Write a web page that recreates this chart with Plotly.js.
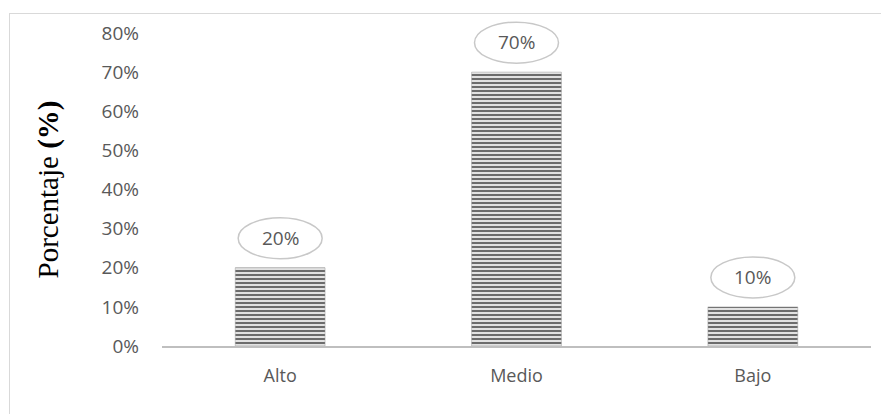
<!DOCTYPE html>
<html>
<head>
<meta charset="utf-8">
<script src="https://cdn.plot.ly/plotly-3.0.1.min.js"></script>
<style>
  html, body { margin: 0; padding: 0; overflow: hidden; background: #fff; }
  #frame { position: absolute; left: 9px; top: 13px; width: 900px; height: 450px; border: 1px solid #d9d9d9; }
  #chart { position: absolute; left: 0; top: 0; width: 881px; height: 414px; }
</style>
</head>
<body>
<div id="frame"></div>
<div id="chart"></div>
<script>
const categories = ["Alto", "Medio", "Bajo"];
const values = [20, 70, 10];
const labels = ["20%", "70%", "10%"];
const yTicks = [0, 10, 20, 30, 40, 50, 60, 70, 80];
const yMax = 80;

const FONT = "'Open Sans', Lato, sans-serif";

const trace = {
  type: "bar",
  x: categories,
  y: values,
  width: 0.38,
  marker: {
    color: "#dcdcdc",
    pattern: { shape: "-", fgcolor: "#5e5e5e", bgcolor: "#e2e2e2", size: 4, solidity: 0.45 },
    line: { color: "#9a9a9a", width: 0.5 }
  },
  hoverinfo: "none"
};

const shapes = values.map((v, i) => ({
  type: "circle",
  xref: "x", yref: "paper",
  xsizemode: "pixel", ysizemode: "pixel",
  xanchor: i, yanchor: v / yMax,
  x0: -42, x1: 42, y0: 9, y1: 50,
  line: { color: "#c8c8c8", width: 1.5 },
  fillcolor: "rgba(255,255,255,0)"
}));

const annotations = values.map((v, i) => ({
  x: i, y: v / yMax, xref: "x", yref: "paper",
  xanchor: "center", yanchor: "middle",
  text: labels[i], showarrow: false,
  yshift: 30,
  font: { family: FONT, size: 19, color: "#595959" }
}));

const layout = {
  width: 881, height: 414,
  margin: { l: 162, r: 10, t: 33, b: 68 },
  paper_bgcolor: "rgba(0,0,0,0)",
  plot_bgcolor: "rgba(0,0,0,0)",
  showlegend: false,
  xaxis: {
    type: "category",
    showline: true, linecolor: "#bfbfbf", linewidth: 2,
    showgrid: false, zeroline: false, ticks: "",
    ticklabelstandoff: 12,
    tickfont: { family: FONT, size: 18, color: "#595959" }
  },
  yaxis: {
    range: [0, yMax],
    tickvals: yTicks,
    ticktext: yTicks.map(t => t + "%"),
    showgrid: false, zeroline: false, showline: false, ticks: "",
    ticklabelstandoff: 22,
    tickfont: { family: FONT, size: 19, color: "#595959" },
    title: {
      text: "Porcentaje <b>(%)</b>",
      font: { family: "'Liberation Serif', 'Times New Roman', serif", size: 29, color: "#000" },
      standoff: 34
    }
  },
  shapes: shapes,
  annotations: annotations
};

Plotly.newPlot("chart", [trace], layout, { displayModeBar: false, staticPlot: true });
</script>
</body>
</html>
